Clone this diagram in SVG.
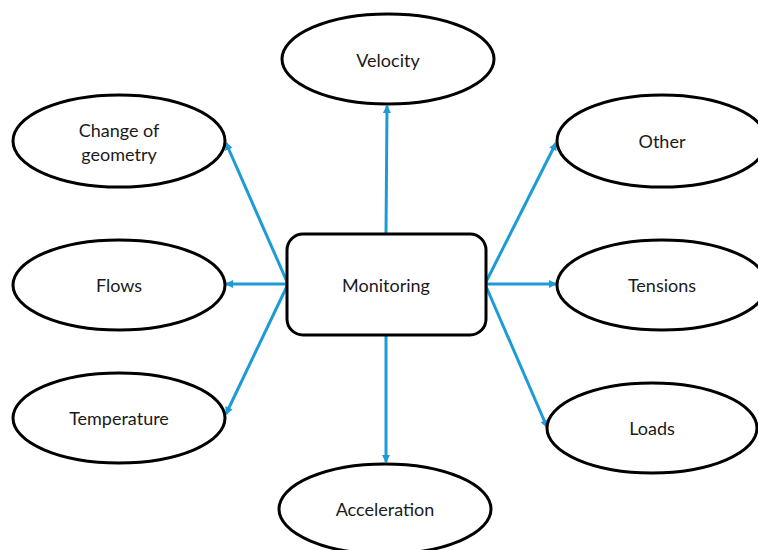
<svg xmlns="http://www.w3.org/2000/svg" width="758" height="550" viewBox="0 0 758 550">
  <style>
    .node { fill: #ffffff; stroke: #000000; stroke-width: 3; }
    .label { font-family: Lato, "Open Sans", "Liberation Sans", sans-serif; font-size: 18px; fill: #1a1a1a; text-anchor: middle; dominant-baseline: central; }
    .edge { stroke: #1d9bd7; stroke-width: 3; fill: none; marker-end: url(#arrow); }
  </style>
  <defs>
    <marker id="arrow" markerWidth="10" markerHeight="10" refX="7" refY="4" orient="auto" markerUnits="userSpaceOnUse">
      <path d="M0,0 L8,4 L0,8 Z" fill="#1d9bd7"/>
    </marker>
  </defs>
  <rect width="758" height="550" fill="#ffffff"/>

  <g id="connectors">
    <line class="edge" x1="386" y1="234" x2="387" y2="106"/>
    <line class="edge" x1="386" y1="335" x2="386" y2="462"/>
    <line class="edge" x1="288" y1="284" x2="226" y2="143"/>
    <line class="edge" x1="288" y1="284" x2="226" y2="284"/>
    <line class="edge" x1="288" y1="284" x2="226" y2="414"/>
    <line class="edge" x1="485" y1="284" x2="556" y2="143"/>
    <line class="edge" x1="485" y1="284" x2="556" y2="284"/>
    <line class="edge" x1="485" y1="284" x2="547" y2="427"/>
  </g>

  <g id="monitoring">
    <rect class="node" x="287" y="234" width="199" height="101" rx="16" ry="16"/>
    <text class="label" x="386" y="285">Monitoring</text>
  </g>
  <g id="velocity">
    <ellipse class="node" cx="388" cy="59" rx="106" ry="45"/>
    <text class="label" x="388" y="60">Velocity</text>
  </g>
  <g id="change-of-geometry">
    <ellipse class="node" cx="119" cy="141" rx="106" ry="46"/>
    <text class="label" x="119" y="130">Change of</text>
    <text class="label" x="119" y="154">geometry</text>
  </g>
  <g id="flows">
    <ellipse class="node" cx="119" cy="285" rx="106" ry="45"/>
    <text class="label" x="119" y="285">Flows</text>
  </g>
  <g id="temperature">
    <ellipse class="node" cx="119" cy="418" rx="106" ry="45"/>
    <text class="label" x="119" y="418">Temperature</text>
  </g>
  <g id="other">
    <ellipse class="node" cx="662" cy="141" rx="105" ry="46"/>
    <text class="label" x="662" y="141">Other</text>
  </g>
  <g id="tensions">
    <ellipse class="node" cx="662" cy="285" rx="105" ry="45"/>
    <text class="label" x="662" y="285">Tensions</text>
  </g>
  <g id="loads">
    <ellipse class="node" cx="652" cy="428" rx="105" ry="45"/>
    <text class="label" x="652" y="428">Loads</text>
  </g>
  <g id="acceleration">
    <ellipse class="node" cx="385" cy="509" rx="106" ry="45"/>
    <text class="label" x="385" y="509">Acceleration</text>
  </g>
</svg>
